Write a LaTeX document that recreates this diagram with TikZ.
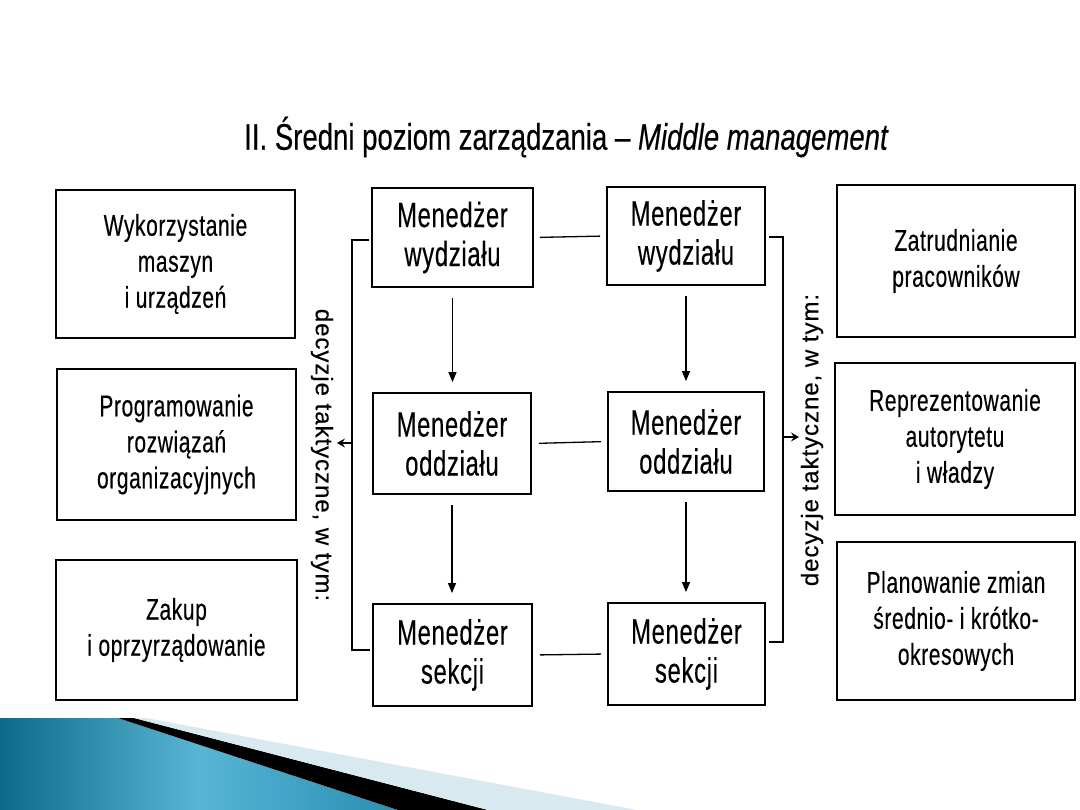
\documentclass[tikz,border=0pt]{standalone}
\usepackage{fontspec}
\setmainfont{Liberation Sans}
\newfontfamily\sidefont{Liberation Sans}[FakeStretch=0.70,FakeBold=0.3,LetterSpace=2]
\newfontfamily\midfont{Liberation Sans}[FakeStretch=0.68,FakeBold=0.3,LetterSpace=2]
\newfontfamily\titlefont{Liberation Sans}[FakeStretch=0.745,FakeBold=0.3]
\newfontfamily\labelfont{Liberation Sans}[FakeBold=0.4,LetterSpace=4]
\usetikzlibrary{arrows.meta}
\definecolor{tealdark}{HTML}{0E6A88}
\definecolor{teallight}{HTML}{58B5D5}
\definecolor{tealmid}{HTML}{2A8FB2}
\definecolor{palestripe}{HTML}{D8EAF0}
\begin{document}
\begin{tikzpicture}[x=1pt,y=-1pt,
  sidebox/.style={draw, line width=1.8pt, inner sep=0pt, align=center,
    font=\sidefont\fontsize{30}{36}\selectfont},
  midbox/.style={draw, line width=1.8pt, inner sep=0pt, align=center,
    font=\midfont\fontsize{35}{39}\selectfont},
  link/.style={line width=1.3pt},
  downarrow/.style={line width=1.3pt, -{Triangle[length=10pt,width=8pt]},
    shorten <=10pt, shorten >=10pt},
  sidearrow/.style={line width=1.2pt, -{Stealth[length=8pt,width=9pt,inset=3pt]}},
  vlabel/.style={font=\labelfont\fontsize{24}{28}\selectfont, inner sep=0pt}
]
\useasboundingbox (0,0) rectangle (1080,810);

% title
\node[font=\titlefont\fontsize{37}{40}\selectfont, inner sep=0pt] (title) at (566,137)
  {II. Średni poziom zarządzania – \itshape Middle management};

% left boxes
\node[sidebox, minimum width=239pt, minimum height=148pt] (l1) at (175.5,264)
  {Wykorzystanie\\maszyn\\i urządzeń};
\node[sidebox, minimum width=239pt, minimum height=151pt] (l2) at (176.5,444.5)
  {Programowanie\\rozwiązań\\organizacyjnych};
\node[sidebox, minimum width=241pt, minimum height=140pt] (l3) at (176.5,630)
  {Zakup\\i oprzyrządowanie};

% middle boxes, first column
\node[midbox, minimum width=161pt, minimum height=99pt] (m1) at (452.5,237.5)
  {Menedżer\\wydziału};
\node[midbox, minimum width=158pt, minimum height=101pt] (m2) at (452,443.5)
  {Menedżer\\oddziału};
\node[midbox, minimum width=159pt, minimum height=102pt] (m3) at (452.5,655)
  {Menedżer\\sekcji};

% middle boxes, second column
\node[midbox, minimum width=158pt, minimum height=98pt] (n1) at (686,236)
  {Menedżer\\wydziału};
\node[midbox, minimum width=156pt, minimum height=99pt] (n2) at (686,441.5)
  {Menedżer\\oddziału};
\node[midbox, minimum width=157pt, minimum height=102pt] (n3) at (686.5,654)
  {Menedżer\\sekcji};

% right boxes
\node[sidebox, minimum width=238pt, minimum height=152pt] (r1) at (956,261)
  {Zatrudnianie\\pracowników};
\node[sidebox, minimum width=240pt, minimum height=152pt] (r2) at (955,439)
  {Reprezentowanie\\autorytetu\\i władzy};
\node[sidebox, minimum width=238pt, minimum height=158pt] (r3) at (956,621)
  {Planowanie zmian\\średnio- i krótko-\\okresowych};

% horizontal links between columns
\draw[link, shorten <=6pt, shorten >=6pt] (m1.east) -- (n1.west);
\draw[link, shorten <=7pt, shorten >=6pt] (m2.east) -- (n2.west);
\draw[link, shorten <=7pt, shorten >=6pt] (m3.east) -- (n3.west);

% vertical arrows
\draw[downarrow] (m1.south) -- (m1.south |- m2.north);
\draw[downarrow] (m2.south) -- (m2.south |- m3.north);
\draw[downarrow] (n1.south) -- (n1.south |- n2.north);
\draw[downarrow] (n2.south) -- (n2.south |- n3.north);

% left bracket
\coordinate (lbt) at (369,240);
\coordinate (lbtc) at (352,240);
\coordinate (lbbc) at (352,650);
\coordinate (lbb) at (370,650);
\draw[link] (lbt) -- (lbtc) -- (lbbc) -- (lbb);
\coordinate (la) at (352,443);
\coordinate (laend) at (337,443);
\draw[sidearrow] (la) -- (laend);

% right bracket
\coordinate (rbt) at (769,237);
\coordinate (rbtc) at (783,237);
\coordinate (rbbc) at (783,642);
\coordinate (rbb) at (769,642);
\draw[link] (rbt) -- (rbtc) -- (rbbc) -- (rbb);
\coordinate (ra) at (783,437);
\coordinate (raend) at (799,437);
\draw[sidearrow] (ra) -- (raend);

% vertical labels
\node[vlabel, rotate=-90] (ltext) at (322,455) {decyzje taktyczne, w tym:};
\node[vlabel, rotate=90] (rtext) at (812,440) {decyzje taktyczne, w tym:};

% bottom decoration
\shade[left color=tealdark, right color=tealmid, middle color=teallight]
  (0,718) -- (118,718) -- (398,810) -- (0,810) -- cycle;
\fill[black] (118,718) -- (134,718) -- (488,810) -- (398,810) -- cycle;
\fill[palestripe] (134,718) -- (146,718) -- (637,810) -- (488,810) -- cycle;
\end{tikzpicture}
\end{document}
